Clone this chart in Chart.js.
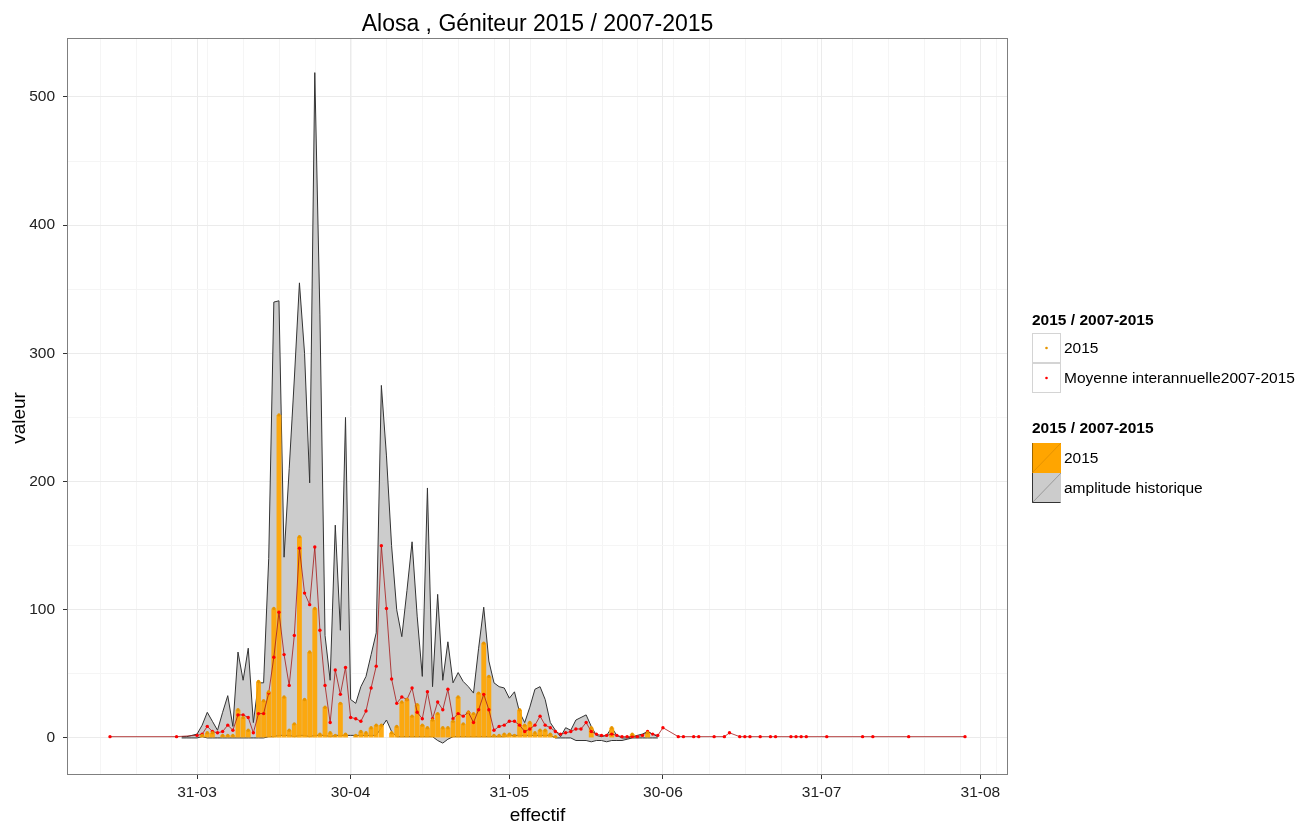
<!DOCTYPE html>
<html>
<head>
<meta charset="utf-8">
<script src="https://cdn.jsdelivr.net/npm/chart.js@4.4.1/dist/chart.umd.min.js"></script>
<style>
  html, body { margin: 0; padding: 0; background: #fff; }
</style>
</head>
<body>
<canvas id="chart" width="1314" height="828"></canvas>
<script>
// days are counted from 31-03 (day 0)
const titleText = 'Alosa , Géniteur 2015 / 2007-2015';
const legendTitle = '2015 / 2007-2015';

const tickDays = [0, 30, 61, 91, 122, 153];
const tickLabels = ['31-03', '30-04', '31-05', '30-06', '31-07', '31-08'];

// amplitude historique (min / max), one value per day from ribbonStart
const ribbonStart = -3;
const maxVals = [
  1, 1, 2, 3, 10, 20, 13, 6, 20, 33,
  9, 67, 45, 70, 12, 43, 43, 140, 340, 341,
  141, 210, 280, 355, 300, 199, 519, 330, 80, 45,
  166, 84, 250, 30, 27, 40, 48, 65, 82, 275,
  220, 150, 100, 79, 115, 153, 95, 48, 195, 40,
  112, 45, 75, 43, 51, 44, 40, 35, 70, 102,
  60, 43, 40, 39, 31, 36, 20, 12, 24, 38,
  40, 30, 12, 6, 1, 8, 6, 14, 16, 18,
  9, 2, 1, 2, 8, 2, 0, 0, 1, 2,
  3, 5, 3, 1
];
const minVals = [
  0, 0, 0, 0, 1, 0, 0, 0, 0, 0,
  0, 0, 0, 0, 0, 0, 0, 1, 1, 2,
  2, 2, 1, 2, 2, 1, 2, 2, 2, 1,
  2, 2, 2, 2, 2, 2, 2, 2, 2, 8,
  14, 5, 1, 1, 1, 1, 1, 1, 1, 1,
  -2, -4, -1, 1, 1, 1, 1, 1, 1, 1,
  1, 1, 1, 1, 2, 2, 2, 2, 2, 2,
  2, 2, 2, 0, 0, 0, 0, -2, -2, -2,
  -3, -2, -2, -3, -2, -2, -2, -1, 0, 0,
  0, 0, 0, 0
];

// effectifs 2015, one value per day from obsStart
const obsStart = 0;
const obsVals = [
  0, 2, 4, 4, 0, 2, 2, 2, 22, 16,
  6, 0, 44, 29, 36, 101, 252, 32, 6, 11,
  157, 30, 67, 101, 3, 24, 4, 2, 27, 3,
  0, 2, 5, 4, 8, 10, 10, 0, 4, 9,
  28, 30, 17, 26, 10, 8, 14, 19, 8, 8,
  13, 32, 11, 20, 19, 35, 74, 48, 2, 2,
  3, 3, 2, 22, 10, 12, 4, 6, 6, 3,
  1, 0, 0, 0, 0, 0, 0, 8, 0, 0,
  0, 8, 0, 0, 0, 3, 0, 0, 4, 0,
  0
];

// moyenne interannuelle 2007-2015
const meanHeadDays = [-17, -4];
const meanHeadVals = [1, 1];
const meanStart = 0;
const meanVals = [
  2, 3, 9, 5, 4, 5, 10, 6, 18, 18,
  16, 4, 19, 19, 35, 63, 98, 65, 41, 80,
  148, 113, 104, 149, 84, 41, 12, 53, 34, 55,
  16, 15, 13, 21, 39, 56, 150, 101, 46, 27,
  32, 30, 39, 20, 15, 36, 15, 28, 22, 38,
  15, 19, 17, 20, 12, 22, 34, 22, 6, 9,
  10, 13, 13, 10, 5, 7, 10, 17, 10, 8,
  5, 3, 4, 5, 7, 7, 12, 5, 3, 2,
  2, 3, 2, 1, 1, 1, 1, 2, 5, 3,
  2, 8
];
const meanTailDays = [94, 95, 97, 98, 101, 103, 104, 106, 107, 108, 110, 112, 113, 116, 117, 118, 119, 123, 130, 132, 139, 150];
const meanTailVals = [1, 1, 1, 1, 1, 1, 4, 1, 1, 1, 1, 1, 1, 1, 1, 1, 1, 1, 1, 1, 1, 1];

const fromStart = (start, vals) => vals.map((v, i) => ({ x: start + i, y: v }));
const fromPairs = (days, vals) => days.map((d, i) => ({ x: d, y: vals[i] }));

const maxPts = fromStart(ribbonStart, maxVals);
const minPts = fromStart(ribbonStart, minVals);
const obsPts = fromStart(obsStart, obsVals);
const obsDots = obsPts.filter(p => p.y > 0);
const meanPts = fromPairs(meanHeadDays, meanHeadVals)
  .concat(fromStart(meanStart, meanVals))
  .concat(fromPairs(meanTailDays, meanTailVals));

// weekly minor grid on x, half steps on y
const xMinor = [];
for (let d = -18.9; d < 158; d += 7) xMinor.push(d);
const yMajor = [0, 100, 200, 300, 400, 500];
const yMinor = [50, 150, 250, 350, 450];

const FONT = '"Liberation Sans", Arial, sans-serif';
const isMajorX = v => tickDays.includes(v);
const isMajorY = v => yMajor.includes(v);

const decor = {
  id: 'decor',
  afterDraw(chart) {
    const { ctx, chartArea: a } = chart;
    const cx = (a.left + a.right) / 2;
    ctx.save();
    ctx.strokeStyle = '#7f7f7f';
    ctx.lineWidth = 1;
    ctx.strokeRect(a.left + 0.5, a.top + 0.5, a.right - a.left - 1, a.bottom - a.top - 1);

    ctx.fillStyle = '#000';
    ctx.textAlign = 'center';
    ctx.textBaseline = 'middle';
    ctx.font = '23px ' + FONT;
    ctx.fillText(titleText, cx, 25);

    ctx.font = '19px ' + FONT;
    ctx.fillText('effectif', cx, 816);
    ctx.save();
    ctx.translate(20, 418);
    ctx.rotate(-Math.PI / 2);
    ctx.fillText('valeur', 0, 0);
    ctx.restore();

    // legend
    const lx = 1032, kw = 29, kh = 30;
    ctx.textAlign = 'left';
    ctx.font = 'bold 15.5px ' + FONT;
    ctx.fillText(legendTitle, lx, 321);
    ctx.fillText(legendTitle, lx, 429);

    ctx.font = '15.5px ' + FONT;
    const pointKeys = [
      { y: 333, color: '#e69500', label: '2015' },
      { y: 363, color: '#ff0000', label: 'Moyenne interannuelle2007-2015' }
    ];
    pointKeys.forEach(k => {
      ctx.fillStyle = '#fff';
      ctx.fillRect(lx, k.y, kw, kh);
      ctx.strokeStyle = '#d4d4d4';
      ctx.strokeRect(lx + 0.5, k.y + 0.5, kw - 1, kh - 1);
      ctx.fillStyle = k.color;
      ctx.beginPath();
      ctx.arc(lx + kw / 2, k.y + kh / 2, 1.3, 0, Math.PI * 2);
      ctx.fill();
      ctx.fillStyle = '#000';
      ctx.fillText(k.label, lx + kw + 3, k.y + kh / 2 + 1);
    });

    const fillKeys = [
      { y: 443, fill: '#ffa500', diag: 'rgba(180,110,0,0.35)', edge: 'rgba(90,60,0,0.6)', label: '2015' },
      { y: 473, fill: '#cccccc', diag: 'rgba(0,0,0,0.25)', edge: '#333', label: 'amplitude historique' }
    ];
    fillKeys.forEach(k => {
      ctx.fillStyle = k.fill;
      ctx.fillRect(lx, k.y, kw, kh);
      ctx.strokeStyle = k.diag;
      ctx.beginPath();
      ctx.moveTo(lx, k.y + kh);
      ctx.lineTo(lx + kw, k.y);
      ctx.stroke();
      ctx.strokeStyle = k.edge;
      ctx.beginPath();
      ctx.moveTo(lx + 0.5, k.y);
      ctx.lineTo(lx + 0.5, k.y + kh - 0.5);
      if (k.label !== '2015') {
        ctx.lineTo(lx + kw - 0.5, k.y + kh - 0.5);
      }
      ctx.stroke();
      ctx.fillStyle = '#000';
      ctx.fillText(k.label, lx + kw + 3, k.y + kh / 2 + 1);
    });
    ctx.restore();
  }
};

new Chart(document.getElementById('chart'), {
  type: 'line',
  data: {
    datasets: [
      {
        label: 'min',
        data: minPts,
        borderColor: '#333333',
        borderWidth: 1,
        pointRadius: 0,
        fill: false,
        tension: 0,
        order: 5
      },
      {
        label: 'amplitude historique',
        data: maxPts,
        borderColor: '#333333',
        borderWidth: 1,
        backgroundColor: '#cccccc',
        pointRadius: 0,
        fill: '-1',
        tension: 0,
        order: 5
      },
      {
        type: 'bar',
        label: '2015',
        data: obsPts,
        backgroundColor: 'rgba(255,165,0,0.92)',
        borderWidth: 0,
        barPercentage: 0.95,
        categoryPercentage: 1,
        order: 4
      },
      {
        label: 'Moyenne interannuelle2007-2015',
        data: meanPts,
        borderColor: 'rgba(165,25,25,0.8)',
        borderWidth: 1,
        pointRadius: 1.7,
        pointBorderWidth: 0,
        pointBackgroundColor: '#ff0000',
        fill: false,
        tension: 0,
        order: 2
      },
      {
        label: '2015 points',
        data: obsDots,
        showLine: false,
        pointRadius: 1.7,
        pointBorderWidth: 0,
        pointBackgroundColor: '#e69500',
        order: 1
      }
    ]
  },
  options: {
    responsive: false,
    animation: false,
    layout: { padding: { top: 38, right: 306, left: 0, bottom: 0 } },
    plugins: {
      legend: { display: false },
      title: { display: false },
      tooltip: { enabled: false }
    },
    scales: {
      x: {
        type: 'linear',
        min: -25.4,
        max: 158.4,
        offset: false,
        border: { display: false },
        afterFit: s => { s.height = 53; },
        afterBuildTicks: s => {
          s.ticks = tickDays.concat(xMinor).map(v => ({ value: v }));
        },
        grid: {
          offset: false,
          color: c => isMajorX(c.tick.value) ? '#ebebeb' : '#f5f5f5',
          tickColor: c => isMajorX(c.tick.value) ? '#333333' : 'rgba(0,0,0,0)',
          tickLength: 4
        },
        ticks: {
          autoSkip: false,
          maxRotation: 0,
          padding: 4,
          color: '#222222',
          font: { family: FONT, size: 15.5 },
          callback: v => {
            const i = tickDays.indexOf(v);
            return i >= 0 ? tickLabels[i] : '';
          }
        }
      },
      y: {
        type: 'linear',
        min: -28.9,
        max: 546,
        border: { display: false },
        afterFit: s => { s.width = 67; },
        afterBuildTicks: s => {
          s.ticks = yMajor.concat(yMinor).map(v => ({ value: v }));
        },
        grid: {
          color: c => isMajorY(c.tick.value) ? '#ebebeb' : '#f5f5f5',
          tickColor: c => isMajorY(c.tick.value) ? '#333333' : 'rgba(0,0,0,0)',
          tickLength: 4
        },
        ticks: {
          autoSkip: false,
          padding: 8,
          color: '#222222',
          font: { family: FONT, size: 15.5 },
          callback: v => isMajorY(v) ? String(v) : ''
        }
      }
    }
  },
  plugins: [decor]
});
</script>
</body>
</html>
